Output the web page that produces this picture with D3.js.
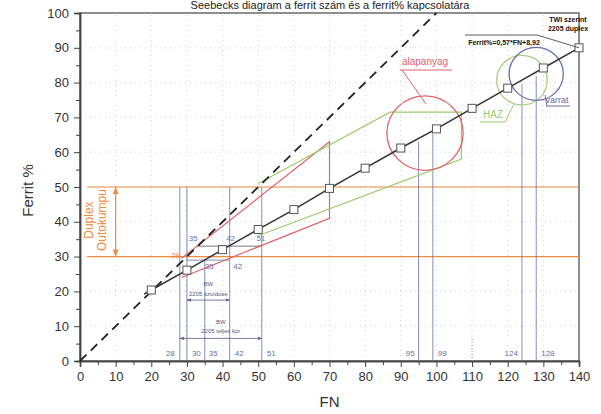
<!DOCTYPE html>
<html>
<head>
<meta charset="utf-8">
<script src="https://cdn.jsdelivr.net/npm/d3@7"></script>
<style>
  body { margin: 0; background: #fff; }
  text { font-family: "Liberation Sans", Arial, sans-serif; }
</style>
</head>
<body>
<svg id="canvas"></svg>
<script>
// TWI 2205 duplex line: Ferrit% = 0,57*FN + 8,92
let twiFN = [20, 30, 40, 50, 60, 70, 80, 90, 100, 110, 120, 130, 140]
let twiFerrit = [20.4, 26.1, 32, 37.8, 43.5, 49.6, 55.4, 61.2, 66.7, 72.6, 78.4, 84.2, 90]

// diagonal Ferrit% = FN
let diagFN = [0, 100]
let diagFerrit = [0, 100]

// Outokumpu duplex range
let duplexRange = [30, 50]

// vertical reading lines with their FN labels
let leftFN = [28, 30, 35, 42, 51]
let leftTop = [50, 50, 29, 50, 50]
let rightFN = [95, 99, 124, 128]

// red fan (alapanyag -> weld)
let redFN = [28.5, 70, 70, 28.5]
let redFerrit = [29.5, 63, 41, 24]

// green HAZ polygon
let greenFN = [50, 87, 107, 107, 50]
let greenFerrit = [51, 71.5, 71.5, 58, 36]

let width = 601
let height = 414

let svg = d3.select('#canvas')
  .attr('width', width)
  .attr('height', height)

let x = d3.scaleLinear().domain([0, 140]).range([80, 579])
let y = d3.scaleLinear().domain([0, 100]).range([361, 13])

// faint dotted grid
svg.append('g')
  .selectAll('line')
  .data(d3.range(10, 140, 10))
  .enter()
  .append('line')
  .attr('x1', d => x(d)).attr('x2', d => x(d))
  .attr('y1', y(0)).attr('y2', y(100))
  .attr('stroke', '#c4c4c4').attr('stroke-width', 0.8)
  .attr('stroke-dasharray', '1,4')

svg.append('g')
  .selectAll('line')
  .data(d3.range(10, 100, 10))
  .enter()
  .append('line')
  .attr('x1', x(0)).attr('x2', x(140))
  .attr('y1', d => y(d)).attr('y2', d => y(d))
  .attr('stroke', '#c4c4c4').attr('stroke-width', 0.8)
  .attr('stroke-dasharray', '1,4')

// frame
svg.append('rect')
  .attr('x', x(0)).attr('y', y(100))
  .attr('width', x(140) - x(0)).attr('height', y(0) - y(100))
  .attr('fill', 'none').attr('stroke', '#444').attr('stroke-width', 1.2)

// axes
let xAxis = d3.axisBottom(x).tickValues(d3.range(0, 141, 10)).tickSize(6).tickPadding(5)
let xMinor = d3.axisBottom(x).tickValues(d3.range(5, 140, 10)).tickSize(4).tickFormat('')
let yAxis = d3.axisLeft(y).tickValues(d3.range(0, 101, 10)).tickSize(6).tickPadding(5)
let yMinor = d3.axisLeft(y).tickValues(d3.range(5, 100, 10)).tickSize(4).tickFormat('')

svg.append('g').attr('transform', 'translate(0,' + y(0) + ')').call(xAxis)
svg.append('g').attr('transform', 'translate(0,' + y(0) + ')').call(xMinor)
svg.append('g').attr('transform', 'translate(' + x(0) + ',0)').call(yAxis)
svg.append('g').attr('transform', 'translate(' + x(0) + ',0)').call(yMinor)

svg.selectAll('.domain').attr('stroke', '#444').attr('stroke-width', 1.5)
svg.selectAll('.tick line').attr('stroke', '#444')
svg.selectAll('.tick text').attr('font-size', 13).attr('fill', '#333')
  .attr('font-family', '"Liberation Sans", Arial, sans-serif')

svg.append('text')
  .attr('x', x(70)).attr('y', 407)
  .attr('text-anchor', 'middle').attr('font-size', 15).attr('fill', '#333')
  .text('FN')

svg.append('text')
  .attr('transform', 'translate(33,' + y(49) + ') rotate(-90)')
  .attr('text-anchor', 'middle').attr('font-size', 15).attr('fill', '#333')
  .text('Ferrit %')

// orange duplex lines
let orange = '#f08a3c'
svg.append('g')
  .selectAll('line')
  .data(duplexRange)
  .enter()
  .append('line')
  .attr('x1', x(2)).attr('x2', x(140))
  .attr('y1', d => y(d)).attr('y2', d => y(d))
  .attr('stroke', orange).attr('stroke-width', 1.2)

svg.append('defs').append('marker')
  .attr('id', 'arrowO').attr('viewBox', '0 0 10 10')
  .attr('refX', 10).attr('refY', 5)
  .attr('markerWidth', 6).attr('markerHeight', 6)
  .attr('orient', 'auto-start-reverse')
  .append('path').attr('d', 'M0,1 L10,5 L0,9 z').attr('fill', orange)

svg.select('defs').append('marker')
  .attr('id', 'arrowB').attr('viewBox', '0 0 10 10')
  .attr('refX', 10).attr('refY', 5)
  .attr('markerWidth', 5).attr('markerHeight', 5)
  .attr('orient', 'auto-start-reverse')
  .append('path').attr('d', 'M0,1 L10,5 L0,9 z').attr('fill', '#555a80')

svg.append('line')
  .attr('x1', x(10)).attr('x2', x(10))
  .attr('y1', y(duplexRange[1])).attr('y2', y(duplexRange[0]))
  .attr('stroke', orange).attr('stroke-width', 1.2)
  .attr('marker-start', 'url(#arrowO)').attr('marker-end', 'url(#arrowO)')

svg.append('text')
  .attr('transform', 'translate(93,' + y(40.5) + ') rotate(-90)')
  .attr('text-anchor', 'middle').attr('font-size', 12).attr('fill', orange)
  .text('Duplex')
svg.append('text')
  .attr('transform', 'translate(106,' + y(40.5) + ') rotate(-90)')
  .attr('text-anchor', 'middle').attr('font-size', 12).attr('fill', orange)
  .text('Outokumpu')

// blue reading lines
let blue = '#6670a8'
svg.append('g')
  .selectAll('line')
  .data(leftFN)
  .enter()
  .append('line')
  .attr('x1', d => x(d)).attr('x2', d => x(d))
  .attr('y1', y(0)).attr('y2', (d, i) => y(leftTop[i]))
  .attr('stroke', blue).attr('stroke-width', 0.8)

svg.append('g')
  .selectAll('line')
  .data(rightFN)
  .enter()
  .append('line')
  .attr('x1', d => x(d)).attr('x2', d => x(d))
  .attr('y1', y(0)).attr('y2', d => y(0.57 * d + 8.92))
  .attr('stroke', blue).attr('stroke-width', 0.8)

svg.append('line')
  .attr('x1', x(110)).attr('x2', x(110))
  .attr('y1', y(0)).attr('y2', y(7))
  .attr('stroke', '#999').attr('stroke-dasharray', '1,2')

let bottomLabels = leftFN.concat(rightFN)
let labelShift = [-5, 5, 4, 5, 5, -4, 5, -4, 5]
svg.append('g')
  .selectAll('text')
  .data(bottomLabels)
  .enter()
  .append('text')
  .attr('x', (d, i) => x(d) + labelShift[i])
  .attr('y', y(0) - 5)
  .attr('text-anchor', (d, i) => labelShift[i] < 0 ? 'end' : 'start')
  .attr('font-size', 8).attr('fill', blue)
  .text(d => d)

// horizontal reading lines
svg.append('line')
  .attr('x1', x(33)).attr('x2', x(51))
  .attr('y1', y(33)).attr('y2', y(33))
  .attr('stroke', '#555').attr('stroke-width', 0.8)
svg.append('line')
  .attr('x1', x(30)).attr('x2', x(42))
  .attr('y1', y(29)).attr('y2', y(29))
  .attr('stroke', blue).attr('stroke-width', 0.8)

let smallLabels = [
  {fn: 30.5, f: 34.5, t: '35', c: blue},
  {fn: 41, f: 34.5, t: '42', c: blue},
  {fn: 49.5, f: 34.5, t: '51', c: blue},
  {fn: 35, f: 26.5, t: '35', c: blue},
  {fn: 43, f: 26.5, t: '42', c: blue},
  {fn: 25.5, f: 29.5, t: '29', c: orange}
]
svg.append('g')
  .selectAll('text')
  .data(smallLabels)
  .enter()
  .append('text')
  .attr('x', d => x(d.fn)).attr('y', d => y(d.f))
  .attr('font-size', 8).attr('fill', d => d.c)
  .text(d => d.t)

// BW dimension arrows
svg.append('line')
  .attr('x1', x(30)).attr('x2', x(42))
  .attr('y1', y(17.5)).attr('y2', y(17.5))
  .attr('stroke', '#555a80').attr('stroke-width', 0.8)
  .attr('marker-start', 'url(#arrowB)').attr('marker-end', 'url(#arrowB)')
svg.append('line')
  .attr('x1', x(28)).attr('x2', x(51))
  .attr('y1', y(6.5)).attr('y2', y(6.5))
  .attr('stroke', '#555a80').attr('stroke-width', 0.8)
  .attr('marker-start', 'url(#arrowB)').attr('marker-end', 'url(#arrowB)')

let bwText = [
  {fn: 36, f: 21.5, t: 'BW'},
  {fn: 36, f: 18.8, t: '2205 szoldose'},
  {fn: 39.5, f: 10.5, t: 'BW'},
  {fn: 39.5, f: 8, t: '2205 teljes kör'}
]
svg.append('g')
  .selectAll('text')
  .data(bwText)
  .enter()
  .append('text')
  .attr('x', d => x(d.fn)).attr('y', d => y(d.f))
  .attr('text-anchor', 'middle')
  .attr('font-size', 6).attr('fill', '#555a80')
  .text(d => d.t)

// red fan
let red = '#e0626a'
let line = d3.line().x(d => x(d[0])).y(d => y(d[1]))
svg.append('path')
  .attr('d', line(redFN.map((d, i) => [d, redFerrit[i]])))
  .attr('fill', 'none').attr('stroke', red).attr('stroke-width', 1.2)

// green HAZ polygon
let green = '#9acd6a'
svg.append('path')
  .attr('d', line(greenFN.map((d, i) => [d, greenFerrit[i]])))
  .attr('fill', 'none').attr('stroke', green).attr('stroke-width', 1.2)

// circles
let circles = [
  {fn: 96.8, f: 65.5, r: 10.7, c: '#e0626a'},
  {fn: 124, f: 80.7, r: 7.1, c: '#a6d07c'},
  {fn: 128, f: 82.5, r: 7.6, c: '#6a70a8'}
]
svg.append('g')
  .selectAll('ellipse')
  .data(circles)
  .enter()
  .append('ellipse')
  .attr('cx', d => x(d.fn)).attr('cy', d => y(d.f))
  .attr('rx', d => x(d.r) - x(0)).attr('ry', d => y(0) - y(d.r))
  .attr('fill', 'none').attr('stroke', d => d.c).attr('stroke-width', 1.3)

// diagonal dashed line
svg.append('path')
  .attr('d', line(diagFN.map((d, i) => [d, diagFerrit[i]])))
  .attr('fill', 'none').attr('stroke', '#222').attr('stroke-width', 1.8)
  .attr('stroke-dasharray', '9,6')

// TWI line + markers
svg.append('path')
  .attr('d', line([[18, 19.2]].concat(twiFN.map((d, i) => [d, twiFerrit[i]]))))
  .attr('fill', 'none').attr('stroke', '#333').attr('stroke-width', 1.5)

svg.append('g')
  .selectAll('rect')
  .data(twiFN)
  .enter()
  .append('rect')
  .attr('x', d => x(d) - 4).attr('y', (d, i) => y(twiFerrit[i]) - 4)
  .attr('width', 8).attr('height', 8)
  .attr('fill', '#fff').attr('stroke', '#555').attr('stroke-width', 1)

// annotation labels
let ann = [
  {x: 425, y: 65, t: 'alapanyag', c: red, s: 10},
  {x: 493, y: 118, t: 'HAZ', c: green, s: 10},
  {x: 557, y: 103, t: 'varrat', c: '#6a70a8', s: 9}
]
svg.append('g')
  .selectAll('text')
  .data(ann)
  .enter()
  .append('text')
  .attr('x', d => d.x).attr('y', d => d.y)
  .attr('text-anchor', 'middle')
  .attr('font-size', d => d.s).attr('fill', d => d.c)
  .text(d => d.t)

svg.append('path')
  .attr('d', 'M400,70 L452,70 M402,70 L426,104')
  .attr('fill', 'none').attr('stroke', red).attr('stroke-width', 1)
svg.append('path')
  .attr('d', 'M480,122 L505,122 L514,104')
  .attr('fill', 'none').attr('stroke', green).attr('stroke-width', 1)
svg.append('path')
  .attr('d', 'M546,106 L570,106 M547,106 L545,95')
  .attr('fill', 'none').attr('stroke', '#6a70a8').attr('stroke-width', 1)

svg.append('text')
  .attr('x', 568).attr('y', 22).attr('text-anchor', 'middle')
  .attr('font-size', 7).attr('font-weight', 'bold').attr('fill', '#111')
  .text('TWI szerint')
svg.append('text')
  .attr('x', 568).attr('y', 31).attr('text-anchor', 'middle')
  .attr('font-size', 7).attr('font-weight', 'bold').attr('fill', '#111')
  .text('2205 duplex')
svg.append('text')
  .attr('x', 504).attr('y', 45).attr('text-anchor', 'middle')
  .attr('font-size', 7).attr('font-weight', 'bold').attr('fill', '#111')
  .text('Ferrit%=0,57*FN+8,92')
svg.append('path')
  .attr('d', 'M465,35 L537,35 L' + x(140) + ',' + y(90))
  .attr('fill', 'none').attr('stroke', '#333').attr('stroke-width', 0.8)

// title (cut by the scan in the original)
svg.append('text')
  .attr('x', 330).attr('y', 9).attr('text-anchor', 'middle')
  .attr('font-size', 11).attr('fill', '#222')
  .text('Seebecks diagram a ferrit szám és a ferrit% kapcsolatára')
</script>
</body>
</html>
